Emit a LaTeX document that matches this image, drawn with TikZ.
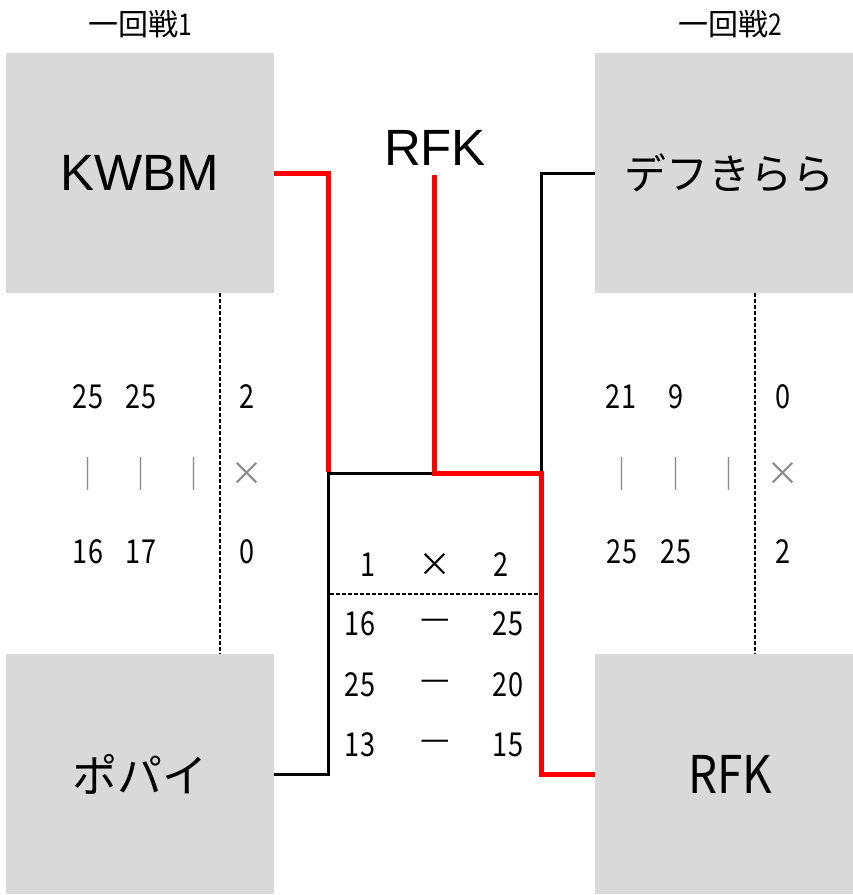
\documentclass[tikz,border=0pt]{standalone}
\usepackage{fontspec}
\setmainfont{Liberation Sans}
\newfontfamily\jpfont{Noto Sans CJK JP}
\definecolor{boxgray}{HTML}{D9D9D9}
\definecolor{bargray}{HTML}{8C8C8C}
\newcommand{\cnum}[1]{\scalebox{0.82}[1]{#1}}
\begin{document}
\begin{tikzpicture}[x=1pt,y=-1pt,
  team/.style={fill=boxgray, draw=none, minimum width=268pt, minimum height=240pt, inner sep=0pt, font=\fontsize{42}{46}\selectfont},
  rteam/.style={team, minimum width=258pt},
  title/.style={font=\jpfont\fontsize{30}{33}\selectfont, inner sep=0pt},
  score/.style={font=\jpfont\fontsize{33}{36}\selectfont, inner sep=0pt},
  gscore/.style={score, text=bargray},
  win/.style={draw=red, line width=5pt},
  lose/.style={draw=black, line width=3pt},
  sep/.style={draw=black, line width=2.5pt, dash pattern=on 4pt off 2pt}
]
\useasboundingbox (0,0) rectangle (853,895);
\fill[white] (0,0) rectangle (853,895);

% titles
\node[title] (t1) at (140,24) {一回戦\cnum{1}};
\node[title] (t2) at (730,24) {一回戦\cnum{2}};

% team boxes
\node[team] (kwbm) at (140,173) {\fontsize{51}{55}\selectfont KWBM};
\node[team] (popai) at (140,774) {\jpfont\fontsize{45}{49}\selectfont ポパイ};
\node[rteam] (defu) at (724,173) {\hspace*{10pt}\jpfont\fontsize{42}{46}\selectfont デフきらら};
\node[rteam] (rfkb) at (724,774) {\hspace*{12pt}\jpfont\fontsize{52}{56}\selectfont\scalebox{0.88}[1]{RFK}};

% winner label
\node[inner sep=0pt, font=\fontsize{51}{55}\selectfont] (champ) at (435,148) {RFK};

% junction coordinates
\coordinate (a1) at (328,173);
\coordinate (a2) at (328,473);
\coordinate (m) at (434,473);
\coordinate (mt) at (434,175);
\coordinate (b1) at (541,173);
\coordinate (b2) at (541,473);
\coordinate (p1) at (328,774);
\coordinate (r1) at (541,774);

% losing lines
\draw[lose] (popai.east) -- (p1) -- (a2) -- (m);
\draw[lose] (defu.west) -- (b1) -- (b2);
% winning lines
\draw[win] (kwbm.east) -- (a1) -- ([yshift=1.2pt]a2);
\draw[win] (rfkb.west) -- (r1) -- (b2) -- (m) -- (mt);

% dashed separators
\draw[sep] (kwbm.south -| 220,0) -- (popai.north -| 220,0);
\draw[sep] (defu.south -| 755,0) -- (rfkb.north -| 755,0);
\draw[sep] (330,594) -- (539,594);

% left match scores
\node[score] (l11) at (88,397) {\cnum{25}};
\node[score] (l12) at (141,397) {\cnum{25}};
\node[score] (l1t) at (247,397) {\cnum{2}};
\node[gscore] (l21) at (88,474) {｜};
\node[gscore] (l22) at (141,474) {｜};
\node[gscore] (l23) at (194,474) {｜};
\node[gscore] (l2t) at (247,474) {×};
\node[score] (l31) at (88,552) {\cnum{16}};
\node[score] (l32) at (141,552) {\cnum{17}};
\node[score] (l3t) at (247,552) {\cnum{0}};

% right match scores
\node[score] (r11) at (621,397) {\cnum{21}};
\node[score] (r12) at (676,397) {\cnum{9}};
\node[score] (r1t) at (783,397) {\cnum{0}};
\node[gscore] (r21) at (622,474) {｜};
\node[gscore] (r22) at (676,474) {｜};
\node[gscore] (r23) at (729,474) {｜};
\node[gscore] (r2t) at (783,474) {×};
\node[score] (r31) at (622,552) {\cnum{25}};
\node[score] (r32) at (676,552) {\cnum{25}};
\node[score] (r3t) at (783,552) {\cnum{2}};

% final scores
\node[score] (f1) at (368,565) {\cnum{1}};
\node[score] (fx) at (435,565) {×};
\node[score] (f2) at (501,565) {\cnum{2}};
\node[score] (g11) at (360,624) {\cnum{16}};
\node[score] (g1d) at (435,624) {—};
\node[score] (g12) at (508,624) {\cnum{25}};
\node[score] (g21) at (360,685) {\cnum{25}};
\node[score] (g2d) at (435,685) {—};
\node[score] (g22) at (508,685) {\cnum{20}};
\node[score] (g31) at (360,745) {\cnum{13}};
\node[score] (g3d) at (435,745) {—};
\node[score] (g32) at (508,745) {\cnum{15}};
\end{tikzpicture}
\end{document}
